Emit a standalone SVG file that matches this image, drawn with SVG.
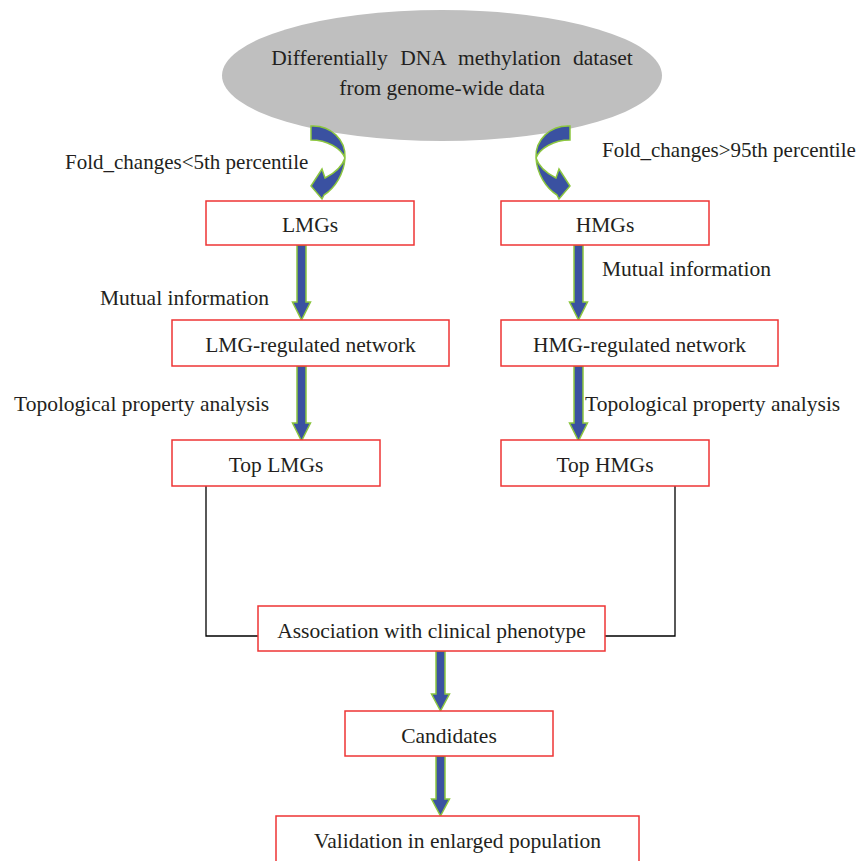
<svg xmlns="http://www.w3.org/2000/svg" xmlns:xlink="http://www.w3.org/1999/xlink" width="861" height="861" viewBox="0 0 861 861">
<style>
.box{fill:#fff;stroke:#ee3535;stroke-width:1.5}
.t{font-family:"Liberation Serif","Times New Roman",serif;font-size:21.5px;fill:#231f20}
.s{font-size:21px}
.c{text-anchor:middle}
.arr{fill:#3a51a1;stroke:#8cc63f;stroke-width:1.5;stroke-linejoin:miter}
.ln{fill:none;stroke:#000;stroke-width:1.3}
</style>
<defs>
<path id="a75" class="arr" d="M-4.5,0 H4.5 V57 H9 L0,75 L-9,57 H-4.5 Z"/>
<path id="a60" class="arr" d="M-4.5,0 H4.5 V43 H9 L0,60 L-9,43 H-4.5 Z"/>
<path id="curv" class="arr" d="M311,126 C331,125 346,140 345,158 C344,174 335,188 324,195 L322,199 L311,186 L322,169 L325,178 C333,174 342,167 345,158 C341,148 327,140 311,140 Z"/>
</defs>
<rect width="861" height="861" fill="#fff"/>
<g id="source">
<ellipse cx="442" cy="75.5" rx="220" ry="65.5" fill="#bfbfbf"/>
<text class="t c" x="452" y="65" word-spacing="7">Differentially DNA methylation dataset</text>
<text class="t c" x="442" y="95">from genome-wide data</text>
</g>
<g id="connectors">
<use xlink:href="#curv"/>
<use xlink:href="#curv" transform="translate(881,0) scale(-1,1)"/>
<use xlink:href="#a75" x="301.5" y="245"/>
<use xlink:href="#a75" x="578.5" y="245"/>
<use xlink:href="#a75" x="301.5" y="366"/>
<use xlink:href="#a75" x="578.5" y="366"/>
<use xlink:href="#a60" x="440.5" y="651"/>
<use xlink:href="#a60" x="440.5" y="756"/>
<polyline class="ln" points="206,486 206,636 258,636"/>
<polyline class="ln" points="675,486 675,636 605,636"/>
<text class="t s" x="65" y="169">Fold_changes&lt;5th percentile</text>
<text class="t s" x="602" y="157">Fold_changes&gt;95th percentile</text>
<text class="t" x="100" y="305">Mutual information</text>
<text class="t" x="602" y="276">Mutual information</text>
<text class="t" x="14" y="411">Topological property analysis</text>
<text class="t" x="585" y="411">Topological property analysis</text>
</g>
<g id="lmgs"><rect class="box" x="206" y="201" width="208" height="44"/><text class="t c" x="310" y="232">LMGs</text></g>
<g id="hmgs"><rect class="box" x="501" y="201" width="208" height="44"/><text class="t c" x="605" y="232">HMGs</text></g>
<g id="lmg-net"><rect class="box" x="172" y="320" width="277" height="46"/><text class="t c" x="310.5" y="352">LMG-regulated network</text></g>
<g id="hmg-net"><rect class="box" x="501" y="320" width="277" height="46"/><text class="t c" x="639.5" y="352">HMG-regulated network</text></g>
<g id="top-lmgs"><rect class="box" x="172" y="440" width="208" height="46"/><text class="t c" x="276" y="472">Top LMGs</text></g>
<g id="top-hmgs"><rect class="box" x="501" y="440" width="208" height="46"/><text class="t c" x="605" y="472">Top HMGs</text></g>
<g id="association"><rect class="box" x="258" y="606" width="347" height="45"/><text class="t c" x="431.5" y="638">Association with clinical phenotype</text></g>
<g id="candidates"><rect class="box" x="345" y="711" width="208" height="45"/><text class="t c" x="449" y="743">Candidates</text></g>
<g id="validation"><rect class="box" x="276" y="816" width="363" height="50"/><text class="t c" x="457.5" y="848">Validation in enlarged population</text></g>
</svg>
